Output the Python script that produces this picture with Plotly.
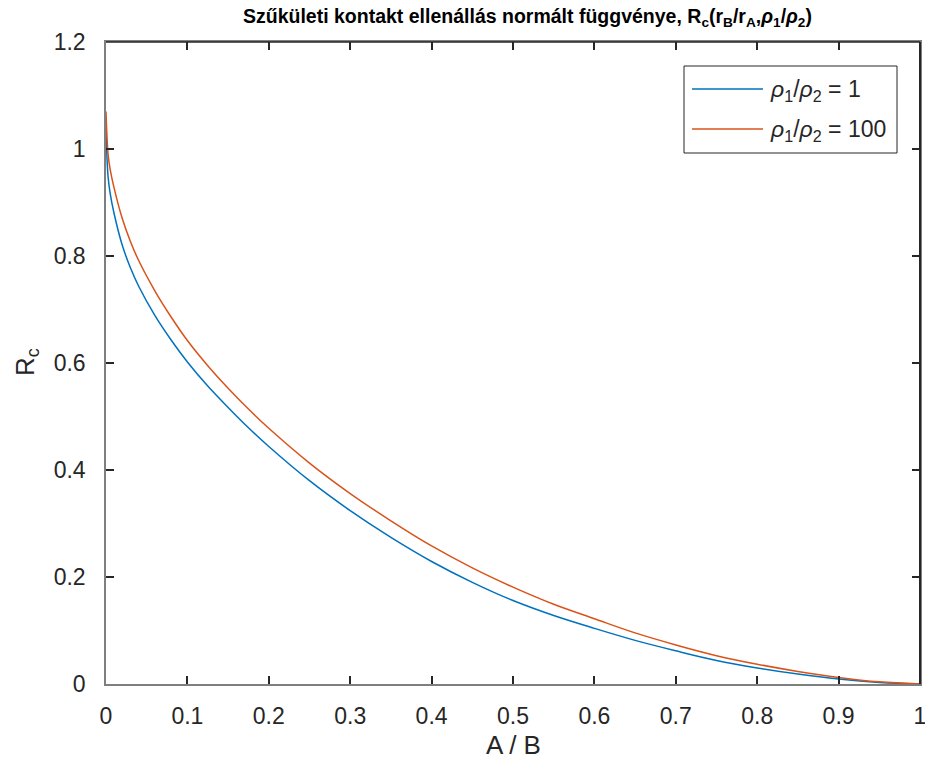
import plotly.graph_objects as go

# A/B ratio (x) and normalised constriction resistance R_c for two resistivity ratios
a_per_b = [0, 0.0025, 0.005, 0.01, 0.02, 0.03, 0.04, 0.06, 0.08, 0.1, 0.125, 0.15,
           0.175, 0.2, 0.25, 0.3, 0.35, 0.4, 0.45, 0.5, 0.55, 0.6, 0.65, 0.7, 0.75,
           0.8, 0.85, 0.9, 0.95, 1.0]
rc_rho_1 = [1.032, 0.949, 0.918, 0.879, 0.82, 0.778, 0.744, 0.689, 0.643, 0.602,
            0.557, 0.517, 0.479, 0.444, 0.380, 0.324, 0.274, 0.229, 0.190, 0.156,
            0.128, 0.104, 0.0815, 0.062, 0.044, 0.030, 0.0185, 0.0093, 0.003, 0.0]
rc_rho_100 = [1.070, 0.991, 0.963, 0.927, 0.87, 0.827, 0.792, 0.735, 0.686, 0.642,
              0.595, 0.553, 0.514, 0.478, 0.413, 0.356, 0.305, 0.258, 0.217, 0.181,
              0.149, 0.122, 0.0955, 0.073, 0.053, 0.037, 0.0235, 0.0123, 0.004, 0.0]

series_names = ["<i>ρ</i><sub>1</sub>/<i>ρ</i><sub>2</sub> = 1",
                "<i>ρ</i><sub>1</sub>/<i>ρ</i><sub>2</sub> = 100"]
series_colors = ["#0072BD", "#D95319"]

x_ticks = [0, 0.1, 0.2, 0.3, 0.4, 0.5, 0.6, 0.7, 0.8, 0.9, 1.0]
x_labels = ["0", "0.1", "0.2", "0.3", "0.4", "0.5", "0.6", "0.7", "0.8", "0.9", "1"]
y_ticks = [0, 0.2, 0.4, 0.6, 0.8, 1.0, 1.2]
y_labels = ["0", "0.2", "0.4", "0.6", "0.8", "1", "1.2"]

W, H = 925, 760
ML, MR, MT, MB = 106, 5, 42, 76
PW, PH = W - ML - MR, H - MT - MB
FONT = "Liberation Sans, Arial, Helvetica, sans-serif"
DARK = "#262626"


def px(x):
    return (x - ML) / PW


def py(y):
    return (H - MB - y) / PH


fig = go.Figure()
for ys, name, col in zip([rc_rho_1, rc_rho_100], series_names, series_colors):
    fig.add_trace(go.Scatter(x=a_per_b, y=ys, mode="lines", name=name,
                             line=dict(color=col, width=1.5, shape="spline", smoothing=1.0),
                             showlegend=False))

axis_common = dict(showgrid=False, zeroline=False, ticks="inside", ticklen=8,
                   tickwidth=1.5, tickcolor=DARK, showline=True, linecolor="#7f7f7f",
                   linewidth=1.5, mirror="ticks", automargin=False,
                   ticklabeloverflow="allow",
                   tickfont=dict(family=FONT, size=23, color=DARK))

fig.update_xaxes(range=[0, 1], tickvals=x_ticks, ticktext=x_labels,
                 ticklabelstandoff=11, **axis_common)
fig.update_yaxes(range=[0, 1.2], tickvals=y_ticks, ticktext=y_labels,
                 ticklabelstandoff=14, **axis_common)

shapes = [
    # dark top and right edges of the axes box
    dict(type="line", xref="paper", yref="paper", x0=0, x1=1, y0=1, y1=1,
         line=dict(color=DARK, width=1.5)),
    dict(type="line", xref="paper", yref="paper", x0=1, x1=1, y0=0, y1=1,
         line=dict(color=DARK, width=2)),
    # legend box
    dict(type="rect", xref="paper", yref="paper", x0=px(684), x1=px(897),
         y0=py(153), y1=py(66), line=dict(color=DARK, width=1), fillcolor="white"),
]
annotations = [
    dict(text="<b>Szűkületi kontakt ellenállás normált függvénye, R<sub>c</sub>(r<sub>B</sub>/r<sub>A</sub>,"
              "<i>ρ</i><sub>1</sub>/<i>ρ</i><sub>2</sub>)</b>",
         xref="paper", yref="paper", x=px(527), y=py(18), xanchor="center", yanchor="middle",
         showarrow=False, font=dict(family=FONT, size=19.5, color="black")),
    dict(text="A / B", xref="paper", yref="paper", x=px(513), y=py(745),
         xanchor="center", yanchor="middle", showarrow=False,
         font=dict(family=FONT, size=26, color=DARK)),
    dict(text="R<sub>c</sub>", xref="paper", yref="paper", x=px(26), y=py(362),
         xanchor="center", yanchor="middle", showarrow=False, textangle=-90,
         font=dict(family=FONT, size=26, color=DARK)),
]
for i, (name, col) in enumerate(zip(series_names, series_colors)):
    yy = 89 + 40 * i
    shapes.append(dict(type="line", xref="paper", yref="paper", x0=px(692), x1=px(763),
                       y0=py(yy), y1=py(yy), line=dict(color=col, width=1.5)))
    annotations.append(dict(text=name, xref="paper", yref="paper", x=px(768), y=py(yy + 2),
                            xanchor="left", yanchor="middle", showarrow=False,
                            font=dict(family=FONT, size=23, color=DARK)))

fig.update_layout(width=W, height=H, margin=dict(l=ML, r=MR, t=MT, b=MB),
                  paper_bgcolor="white", plot_bgcolor="white",
                  shapes=shapes, annotations=annotations)

fig.write_html("out.html")
